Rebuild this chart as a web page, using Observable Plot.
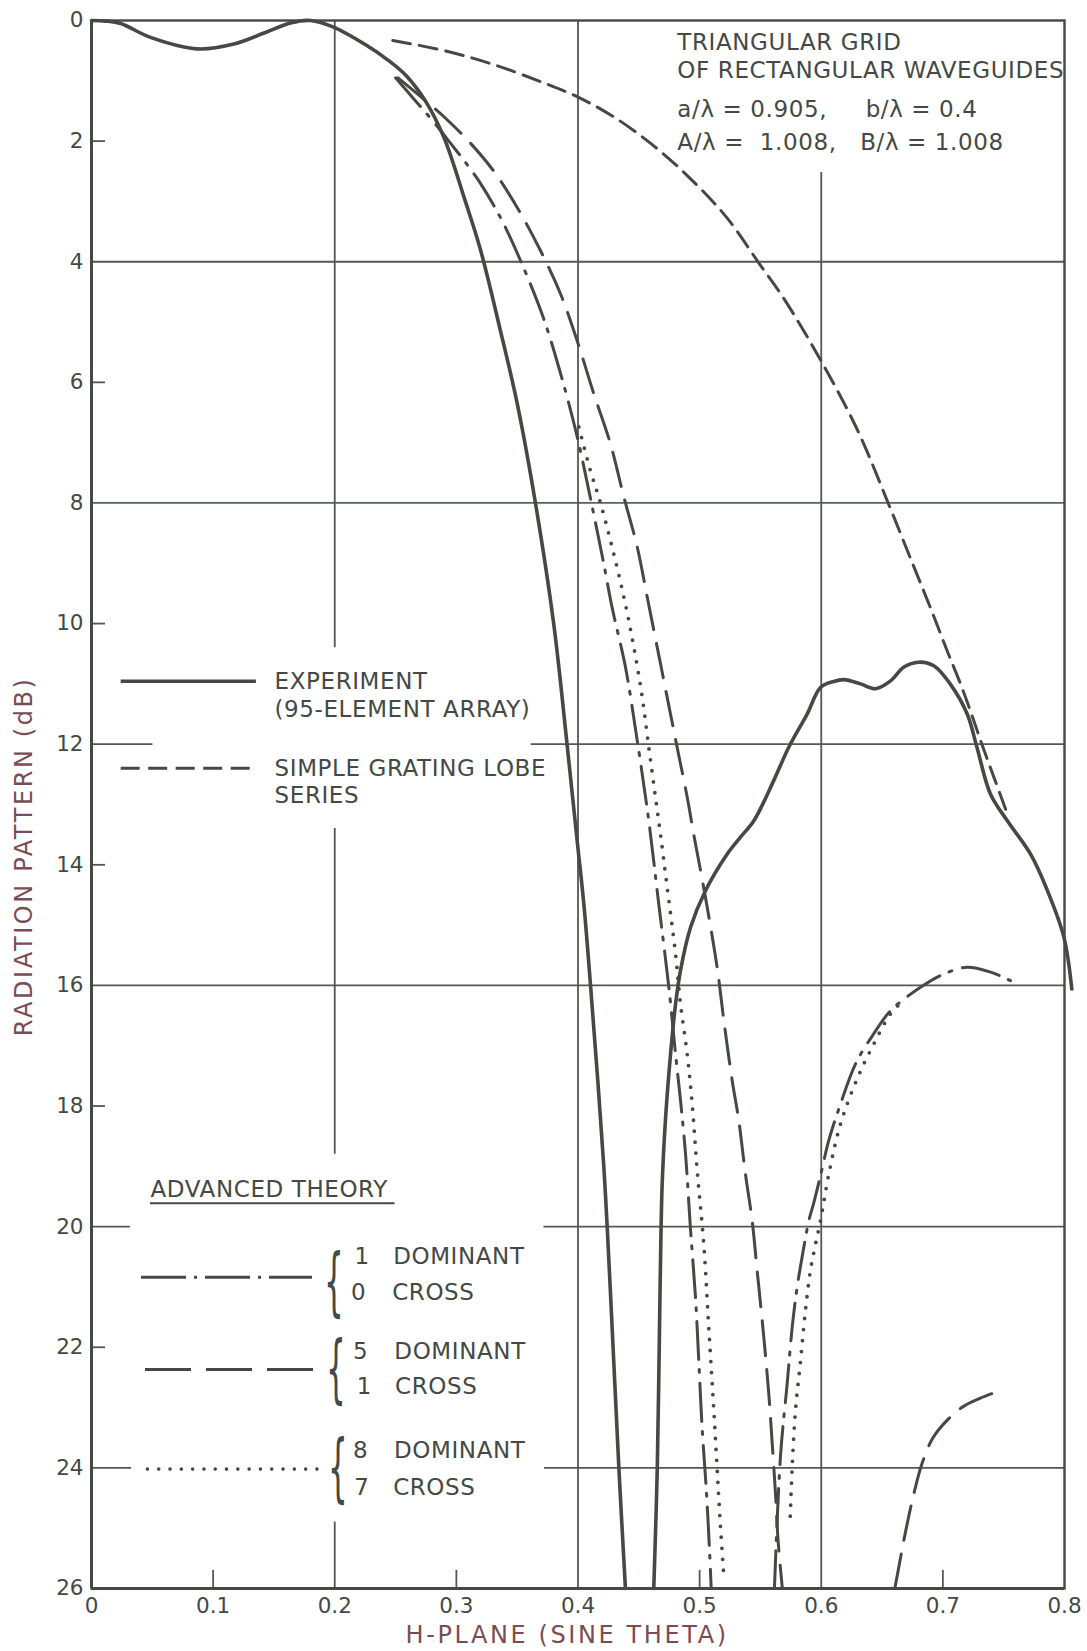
<!DOCTYPE html>
<html><head><meta charset="utf-8">
<script src="https://cdn.jsdelivr.net/npm/d3@7"></script>
<script src="https://cdn.jsdelivr.net/npm/@observablehq/plot@0.6"></script>
<style>
html,body{margin:0;padding:0;background:#fff;}
#chart svg{display:block;}
#chart text{letter-spacing:0.6px;}
#chart g[aria-label$="tick label"] text{letter-spacing:0px;}
</style></head>
<body><div id="chart"></div>
<script>
// ---------------- data ----------------
const xTicks = [0, 0.1, 0.2, 0.3, 0.4, 0.5, 0.6, 0.7, 0.8];
const yTicks = [0, 2, 4, 6, 8, 10, 12, 14, 16, 18, 20, 22, 24, 26];

// Experiment (95-element array), solid
const expLeftX  = [0, 0.012, 0.024, 0.0485, 0.087, 0.117, 0.144, 0.1636, 0.18, 0.199, 0.2267, 0.244, 0.259, 0.275, 0.29, 0.3066, 0.3198, 0.3363, 0.35, 0.365, 0.38, 0.391, 0.3993, 0.4048, 0.4103, 0.4212, 0.4267, 0.4336, 0.439];
const expLeftDb = [0, 0.01, 0.05, 0.28, 0.47, 0.39, 0.19, 0.04, 0.0, 0.11, 0.42, 0.66, 0.92, 1.35, 1.95, 2.95, 3.8, 5.15, 6.35, 8.0, 10.0, 12.0, 13.6, 14.65, 16.0, 19.0, 21.1, 24.0, 26.0];
const expRightX  = [0.4623, 0.4652, 0.4675, 0.4692, 0.472, 0.4761, 0.4802, 0.4843, 0.4925, 0.5048, 0.5227, 0.5336, 0.5446, 0.561, 0.5733, 0.5884, 0.5994, 0.6103, 0.6185, 0.6322, 0.6446, 0.657, 0.668, 0.68, 0.6925, 0.706, 0.72, 0.728, 0.739, 0.753, 0.772, 0.786, 0.7995, 0.806];
const expRightDb = [26, 24, 21, 19.3, 18.2, 17.14, 16.31, 15.75, 15.04, 14.43, 13.82, 13.54, 13.27, 12.6, 12.05, 11.5, 11.06, 10.96, 10.93, 11.0, 11.08, 10.95, 10.72, 10.64, 10.7, 11.0, 11.5, 12.05, 12.82, 13.27, 13.82, 14.43, 15.2, 16.06];

// Simple grating lobe series, short dashes
const gratingX  = [0.2477, 0.29, 0.329, 0.3675, 0.4, 0.4295, 0.4605, 0.4913, 0.522, 0.549, 0.5686, 0.6, 0.63, 0.655, 0.675, 0.69, 0.7035, 0.7145, 0.7227, 0.731, 0.742, 0.752];
const gratingDb = [0.33, 0.5, 0.72, 1.0, 1.27, 1.6, 2.05, 2.6, 3.26, 4.03, 4.59, 5.65, 6.8, 8.0, 9.0, 9.75, 10.45, 11.0, 11.45, 11.94, 12.55, 13.1];

// Advanced theory: 1 dominant, 0 cross (dash-dot)
const dom1LeftX  = [0.25, 0.265, 0.28, 0.295, 0.31, 0.3198, 0.3363, 0.3527, 0.3719, 0.387, 0.3993, 0.41, 0.4212, 0.428, 0.439, 0.4487, 0.4582, 0.4664, 0.4747, 0.4802, 0.4843, 0.4884, 0.4925, 0.4966, 0.4993, 0.5021, 0.5057, 0.5084, 0.5095];
const dom1LeftDb = [0.95, 1.3, 1.65, 2.03, 2.42, 2.7, 3.27, 3.98, 4.95, 5.95, 6.9, 7.9, 9.01, 9.73, 10.72, 11.94, 13.27, 14.65, 16.03, 17.14, 17.91, 18.79, 20.04, 21.17, 22.22, 23.35, 24.43, 25.48, 26];
const dom1RightX  = [0.5615, 0.5665, 0.572, 0.5761, 0.5802, 0.5843, 0.5898, 0.5939, 0.6, 0.6062, 0.6158, 0.6282, 0.6432, 0.657, 0.6816, 0.7008, 0.72, 0.7392, 0.7556];
const dom1RightDb = [26, 23.8, 22.6, 21.67, 21.0, 20.5, 19.9, 19.6, 19.1, 18.57, 17.97, 17.3, 16.8, 16.42, 16.03, 15.81, 15.7, 15.78, 15.92];

// Advanced theory: 5 dominant, 1 cross (long dashes)
const dom5LeftX  = [0.252, 0.27, 0.29, 0.31, 0.3308, 0.35, 0.369, 0.3856, 0.3993, 0.413, 0.4267, 0.4377, 0.4487, 0.4569, 0.4651, 0.4733, 0.4815, 0.4898, 0.4952, 0.5048, 0.5144, 0.5199, 0.5268, 0.5322, 0.5377, 0.5432, 0.5473, 0.5528, 0.5569, 0.5597, 0.5624, 0.5645, 0.568];
const dom5LeftDb = [0.95, 1.25, 1.6, 2.0, 2.5, 3.1, 3.81, 4.53, 5.31, 6.19, 7.02, 7.9, 8.73, 9.56, 10.39, 11.22, 12.05, 12.88, 13.5, 14.54, 15.7, 16.58, 17.58, 18.24, 19.13, 19.9, 20.73, 21.84, 22.78, 23.6, 24.43, 25.2, 26];
const dom5RightX  = [0.6605, 0.669, 0.676, 0.683, 0.6916, 0.703, 0.717, 0.7313, 0.7497];
const dom5RightDb = [26, 25.09, 24.44, 23.92, 23.51, 23.22, 22.98, 22.84, 22.7];

// Advanced theory: 8 dominant, 7 cross (dotted)
const dom8LeftX  = [0.4007, 0.41, 0.4185, 0.428, 0.4377, 0.4459, 0.4528, 0.4582, 0.4637, 0.4678, 0.4733, 0.4802, 0.4843, 0.4898, 0.4939, 0.498, 0.5034, 0.5075, 0.5117, 0.5144, 0.5172, 0.5199];
const dom8LeftDb = [6.74, 7.45, 8.0, 8.73, 9.56, 10.39, 11.22, 12.05, 12.88, 13.49, 14.37, 15.48, 16.31, 17.14, 17.97, 19.07, 20.29, 21.67, 23.05, 24.02, 24.99, 25.79];
const dom8RightX  = [0.5745, 0.5761, 0.5788, 0.583, 0.587, 0.5911, 0.5953, 0.5994, 0.6062, 0.6158, 0.6295, 0.6432, 0.657, 0.665];
const dom8RightDb = [24.8, 23.99, 23.05, 22.22, 21.39, 20.73, 20.29, 19.9, 19.13, 18.3, 17.55, 16.97, 16.47, 16.3];

// ---------------- layout & style ----------------
const ink = "#444944";
const gridInk = "#535853";
const greenGrid = "#4f6a50";
const titleInk = "#7a4d55";
const FONT = "DejaVu Sans";

function toRows(xs, ys, seg) { return xs.map((x, i) => ({x, y: ys[i], seg})); }
const experiment = [...toRows(expLeftX, expLeftDb, "a"), ...toRows(expRightX, expRightDb, "b")];
const grating = toRows(gratingX, gratingDb, "a");
const dom1 = [...toRows(dom1LeftX, dom1LeftDb, "a"), ...toRows(dom1RightX, dom1RightDb, "b")];
const dom5 = [...toRows(dom5LeftX, dom5LeftDb, "a"), ...toRows(dom5RightX, dom5RightDb, "b")];
const dom8 = [...toRows(dom8LeftX, dom8LeftDb, "a"), ...toRows(dom8RightX, dom8RightDb, "b")];

// grid segments as drawn (interrupted where the labels sit)
const hGrid = [
  {y: 4, x1: 0, x2: 0.8}, {y: 16, x1: 0, x2: 0.8},
  {y: 12, x1: 0, x2: 0.0505}, {y: 12, x1: 0.3615, x2: 0.8},
  {y: 20, x1: 0, x2: 0.032}, {y: 20, x1: 0.372, x2: 0.8},
  {y: 24, x1: 0, x2: 0.033}, {y: 24, x1: 0.3725, x2: 0.8}
];
const hGridGreen = [{y: 8, x1: 0, x2: 0.8}];
const yMinor = [2, 6, 10, 14, 18, 22].map(y => ({y, x1: 0, x2: 0.0115}));
const vGrid = [
  {x: 0.2, y1: 0, y2: 10.4}, {x: 0.2, y1: 13.4, y2: 18.8}, {x: 0.2, y1: 24.9, y2: 26},
  {x: 0.4, y1: 0, y2: 26}, {x: 0.6, y1: 2.52, y2: 26}
];
const xMinor = [0.1, 0.3, 0.5, 0.7].map(x => ({x, y1: 25.7, y2: 26}));

const noteLines = [
  {x: 0.4817, y: 0.36, text: "TRIANGULAR GRID"},
  {x: 0.4817, y: 0.83, text: "OF RECTANGULAR WAVEGUIDES"},
  {x: 0.4817, y: 1.48, text: "a/λ = 0.905,"},
  {x: 0.6365, y: 1.48, text: "b/λ = 0.4"},
  {x: 0.4817, y: 2.03, text: "A/λ =  1.008,"},
  {x: 0.632,  y: 2.03, text: "B/λ = 1.008"},
  {x: 0.1505, y: 10.96, text: "EXPERIMENT"},
  {x: 0.1505, y: 11.43, text: "(95-ELEMENT ARRAY)"},
  {x: 0.1505, y: 12.4, text: "SIMPLE GRATING LOBE"},
  {x: 0.1505, y: 12.85, text: "SERIES"},
  {x: 0.0485, y: 19.39, text: "ADVANCED THEORY"},
  {x: 0.2162, y: 20.49, text: "1"}, {x: 0.248, y: 20.49, text: "DOMINANT"},
  {x: 0.2134, y: 21.09, text: "0"}, {x: 0.2472, y: 21.09, text: "CROSS"},
  {x: 0.215, y: 22.08, text: "5"}, {x: 0.249, y: 22.08, text: "DOMINANT"},
  {x: 0.218, y: 22.66, text: "1"}, {x: 0.2496, y: 22.66, text: "CROSS"},
  {x: 0.215, y: 23.71, text: "8"}, {x: 0.2487, y: 23.71, text: "DOMINANT"},
  {x: 0.216, y: 24.32, text: "7"}, {x: 0.248, y: 24.32, text: "CROSS"}
];
const braces = [{x: 0.1994, y: 20.94}, {x: 0.201, y: 22.39}, {x: 0.2027, y: 24.02}];
const xTitle = "H-PLANE (SINE THETA)";
const yTitle = "RADIATION PATTERN (dB)";

const chart = Plot.plot({
  width: 1087, height: 1651,
  marginLeft: 91, marginRight: 23, marginTop: 20, marginBottom: 63,
  style: {fontFamily: FONT, background: "#fff", color: ink},
  x: {domain: [0, 0.8]},
  y: {domain: [0, 26], reverse: true},
  marks: [
    // grid
    Plot.ruleY(hGrid, {y: "y", x1: "x1", x2: "x2", stroke: gridInk, strokeWidth: 1.8}),
    Plot.ruleY(hGridGreen, {y: "y", x1: "x1", x2: "x2", stroke: greenGrid, strokeWidth: 1.8}),
    Plot.ruleY(yMinor, {y: "y", x1: "x1", x2: "x2", stroke: gridInk, strokeWidth: 1.8}),
    Plot.ruleX(vGrid, {x: "x", y1: "y1", y2: "y2", stroke: gridInk, strokeWidth: 1.8}),
    Plot.ruleX(xMinor, {x: "x", y1: "y1", y2: "y2", stroke: gridInk, strokeWidth: 1.8}),
    Plot.frame({stroke: ink, strokeWidth: 2.4}),
    Plot.ruleX([0], {stroke: ink, strokeWidth: 3}),
    Plot.ruleY([26], {stroke: ink, strokeWidth: 3}),
    // axes
    Plot.axisX({ticks: xTicks, tickSize: 0, tickPadding: 9, fontSize: 21.5, label: null, fill: ink,
      tickFormat: d => d === 0 ? "0" : d3.format(".1f")(d)}),
    Plot.axisY({ticks: yTicks, tickSize: 0, tickPadding: 8, fontSize: 21.5, label: null, fill: ink}),
    // curves
    Plot.line(grating, {x: "x", y: "y", z: "seg", stroke: ink, strokeWidth: 3, strokeDasharray: "18,9", curve: "catmull-rom"}),
    Plot.line(dom1, {x: "x", y: "y", z: "seg", stroke: ink, strokeWidth: 3, strokeDasharray: "38,10,3,11", curve: "catmull-rom"}),
    Plot.line(dom5, {x: "x", y: "y", z: "seg", stroke: ink, strokeWidth: 3, strokeDasharray: "35,14", curve: "catmull-rom"}),
    Plot.line(dom8, {x: "x", y: "y", z: "seg", stroke: ink, strokeWidth: 3.8, strokeDasharray: "0,11", strokeLinecap: "round", curve: "catmull-rom"}),
    Plot.line(experiment, {x: "x", y: "y", z: "seg", stroke: ink, strokeWidth: 3.6, curve: "catmull-rom"}),
    // legend samples
    Plot.ruleY([10.956], {x1: 0.0244, x2: 0.1356, stroke: ink, strokeWidth: 3.6}),
    Plot.ruleY([12.4], {x1: 0.0244, x2: 0.1316, stroke: ink, strokeWidth: 3, strokeDasharray: "19,8.5"}),
    Plot.ruleY([20.84], {x1: 0.0411, x2: 0.1817, stroke: ink, strokeWidth: 3, strokeDasharray: "45,8,3,8"}),
    Plot.ruleY([22.37], {x1: 0.0444, x2: 0.1825, stroke: ink, strokeWidth: 3, strokeDasharray: "46,15"}),
    Plot.ruleY([24.02], {x1: 0.0464, x2: 0.1858, stroke: ink, strokeWidth: 3.6, strokeDasharray: "0,11.3", strokeLinecap: "round"}),
    Plot.ruleY([19.61], {x1: 0.0485, x2: 0.2496, stroke: ink, strokeWidth: 2}),
    // annotations
    Plot.text(noteLines, {x: "x", y: "y", text: "text", textAnchor: "start", lineAnchor: "middle", fontSize: 23, fill: ink}),
    Plot.text(braces, {x: "x", y: "y", text: () => "{", textAnchor: "middle", lineAnchor: "middle", fontSize: 74, fill: ink}),
    // axis titles
    Plot.text([xTitle], {x: () => 0.391, y: () => 26.77, text: d => d, textAnchor: "middle", lineAnchor: "middle", fontSize: 24, fill: titleInk}),
    Plot.text([yTitle], {x: () => -0.0551, y: () => 13.86, text: d => d, rotate: -90, textAnchor: "middle", lineAnchor: "middle", fontSize: 24, fill: titleInk})
  ]
});
document.getElementById("chart").appendChild(chart);

// post-styling: narrow braces, spaced axis titles
d3.select(chart).selectAll("text").each(function() {
  const s = this.textContent;
  if (s === "{") {
    const t = this.getAttribute("transform");
    if (t) this.setAttribute("transform", t + " scale(0.42,1)");
    else {
      const x = +this.getAttribute("x") || 0, y = +this.getAttribute("y") || 0;
      this.setAttribute("transform", `translate(${x},${y}) scale(0.42,1)`);
      this.setAttribute("x", 0); this.setAttribute("y", 0);
    }
  } else if (s === xTitle || s === yTitle) {
    this.style.letterSpacing = "2.6px";
  }
});
</script>
</body></html>
